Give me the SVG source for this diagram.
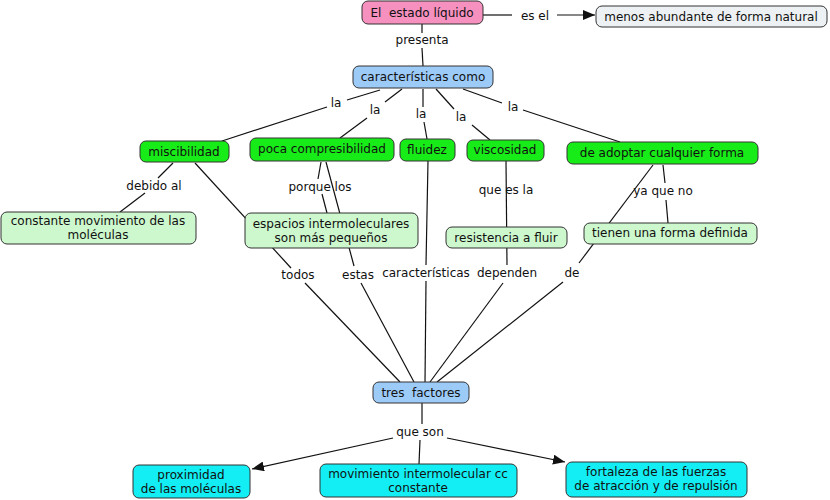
<svg xmlns="http://www.w3.org/2000/svg" width="830" height="500" viewBox="0 0 830 500">
<defs>
<style>
text{font-family:"DejaVu Sans","Liberation Sans",sans-serif;font-size:12px;fill:#111;text-anchor:middle;white-space:pre}
.n rect{stroke:#333;stroke-width:1}
.pink{fill:#f590bf}
.grey{fill:#eef1f3}
.blue{fill:#9dcbf8}
.green{fill:#18ec18}
.lgreen{fill:#cdf7cd}
.cyan{fill:#12eef4}
#conn line,#conn polyline{stroke:#111;stroke-width:1.2;fill:none}
</style>
<marker id="arr" viewBox="0 0 12 10" refX="12" refY="5" markerWidth="12" markerHeight="10" markerUnits="userSpaceOnUse" orient="auto">
<path d="M0,0 L12,5 L0,10 z" fill="#111"/>
</marker>
</defs>
<rect width="830" height="500" fill="#fff"/>
<g id="conn">
<line x1="483" y1="15" x2="512" y2="15"/>
<line x1="557" y1="15" x2="595" y2="15" marker-end="url(#arr)"/>
<line x1="422" y1="24" x2="422" y2="33"/>
<line x1="422" y1="48" x2="423" y2="66"/>
<line x1="380" y1="90" x2="347" y2="100"/>
<line x1="327" y1="107" x2="222" y2="141"/>
<line x1="402" y1="89" x2="385" y2="102"/>
<line x1="367" y1="118" x2="340" y2="138"/>
<line x1="423" y1="89" x2="423" y2="107"/>
<line x1="424" y1="122" x2="427" y2="139"/>
<line x1="436" y1="89" x2="454" y2="109"/>
<line x1="472" y1="125" x2="490" y2="140"/>
<line x1="463" y1="89" x2="502" y2="103"/>
<line x1="523" y1="110" x2="620" y2="142"/>
<line x1="173" y1="163" x2="158" y2="178"/>
<line x1="145" y1="193" x2="120" y2="212"/>
<line x1="195" y1="163" x2="291" y2="268"/>
<line x1="305" y1="283" x2="400" y2="382"/>
<line x1="321" y1="162" x2="318" y2="179"/>
<line x1="322" y1="194" x2="327" y2="213"/>
<line x1="326" y1="162" x2="354" y2="266"/>
<line x1="361" y1="283" x2="414" y2="382"/>
<line x1="428" y1="161" x2="426" y2="265"/>
<line x1="426" y1="281" x2="425" y2="382"/>
<line x1="506" y1="161" x2="507" y2="265"/>
<line x1="503" y1="283" x2="430" y2="382"/>
<line x1="663" y1="165" x2="665" y2="183"/>
<line x1="666" y1="200" x2="668" y2="223"/>
<line x1="653" y1="165" x2="579" y2="263"/>
<line x1="563" y1="282" x2="437" y2="382"/>
<line x1="422" y1="403" x2="422" y2="424"/>
<line x1="393" y1="438" x2="252" y2="469" marker-end="url(#arr)"/>
<line x1="420" y1="440" x2="419" y2="464"/>
<line x1="447" y1="438" x2="565" y2="462" marker-end="url(#arr)"/>
</g>
<g id="labels">
<text x="535" y="20">es el</text>
<text x="422" y="44">presenta</text>
<text x="336" y="107">la</text>
<text x="375" y="114">la</text>
<text x="421" y="118">la</text>
<text x="461" y="121">la</text>
<text x="513" y="111">la</text>
<text x="154" y="190">debido al</text>
<text x="320" y="191">porque los</text>
<text x="506" y="194">que es la</text>
<text x="663" y="195">ya que no</text>
<text x="298" y="279">todos</text>
<text x="358" y="279">estas</text>
<text x="426" y="277">características</text>
<text x="507" y="277">dependen</text>
<text x="572" y="277">de</text>
<text x="420" y="436">que son</text>
</g>
<g id="n-liquido" class="n"><rect class="pink" x="362" y="1" width="121" height="23" rx="6"/><text x="422" y="17">El  estado líquido</text></g>
<g id="n-menos" class="n"><rect class="grey" x="596" y="6" width="231" height="21" rx="6"/><text x="711" y="21">menos abundante de forma natural</text></g>
<g id="n-caract" class="n"><rect class="blue" x="353" y="66" width="140" height="22" rx="6"/><text x="423" y="81">características como</text></g>
<g id="n-misc" class="n"><rect class="green" x="140" y="141" width="89" height="21" rx="6"/><text x="184" y="156">miscibilidad</text></g>
<g id="n-poca" class="n"><rect class="green" x="250" y="138" width="144" height="23" rx="6"/><text x="322" y="153">poca compresibilidad</text></g>
<g id="n-fluidez" class="n"><rect class="green" x="400" y="139" width="55" height="22" rx="6"/><text x="427" y="154">fluidez</text></g>
<g id="n-visc" class="n"><rect class="green" x="467" y="140" width="77" height="21" rx="6"/><text x="505" y="154">viscosidad</text></g>
<g id="n-adoptar" class="n"><rect class="green" x="567" y="142" width="191" height="22" rx="6"/><text x="662" y="157">de adoptar cualquier forma</text></g>
<g id="n-constante" class="n"><rect class="lgreen" x="1" y="212" width="195" height="32" rx="6"/><text x="98" y="225">constante movimiento de las</text><text x="98" y="239">moléculas</text></g>
<g id="n-espacios" class="n"><rect class="lgreen" x="245" y="213" width="173" height="35" rx="6"/><text x="331" y="228">espacios intermoleculares</text><text x="331" y="242">son más pequeños</text></g>
<g id="n-resist" class="n"><rect class="lgreen" x="446" y="227" width="121" height="21" rx="6"/><text x="506" y="242">resistencia a fluir</text></g>
<g id="n-tienen" class="n"><rect class="lgreen" x="584" y="223" width="173" height="21" rx="6"/><text x="670" y="237">tienen una forma definida</text></g>
<g id="n-tres" class="n"><rect class="blue" x="373" y="382" width="96" height="21" rx="6"/><text x="421" y="397">tres  factores</text></g>
<g id="n-prox" class="n"><rect class="cyan" x="133" y="465" width="117" height="33" rx="6"/><text x="191" y="479">proximidad</text><text x="191" y="493">de las moléculas</text></g>
<g id="n-mov" class="n"><rect class="cyan" x="320" y="464" width="197" height="33" rx="6"/><text x="418" y="478">movimiento intermolecular cc</text><text x="418" y="492">constante</text></g>
<g id="n-fort" class="n"><rect class="cyan" x="566" y="462" width="181" height="35" rx="6"/><text x="656" y="476">fortaleza de las fuerzas</text><text x="656" y="490">de atracción y de repulsión</text></g>
</svg>
